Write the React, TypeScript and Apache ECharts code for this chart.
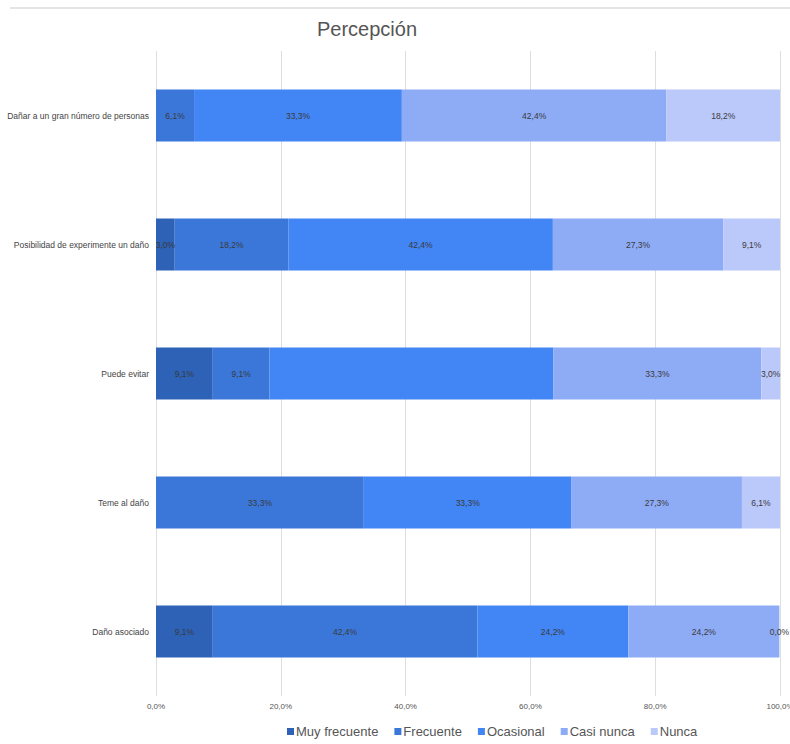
import React, { useEffect, useRef } from "react";
import * as echarts from "echarts";

// Survey items, top to bottom
const categories = [
  "Dañar a un gran número de personas",
  "Posibilidad de experimente un daño",
  "Puede evitar",
  "Teme al daño",
  "Daño asociado",
];

const seriesNames = ["Muy frecuente", "Frecuente", "Ocasional", "Casi nunca", "Nunca"];

// Percent of answers per item (null = no answers in that group)
const muyFrecuente = [null, 3.0, 9.1, null, 9.1];
const frecuente = [6.1, 18.2, 9.1, 33.3, 42.4];
const ocasional = [33.3, 42.4, 45.5, 33.3, 24.2];
const casiNunca = [42.4, 27.3, 33.3, 27.3, 24.2];
const nunca = [18.2, 9.1, 3.0, 6.1, 0.0];

// Segments drawn without a value label: [series index, category index]
const unlabeled = [[2, 2]];

const xTicks = [0, 20, 40, 60, 80, 100];

const colors = ["#2d62b6", "#3a77d9", "#4285f4", "#8eabf6", "#bbc8fa"];

const pct = (v: number) => v.toFixed(1).replace(".", ",") + "%";

export default function App() {
  const ref = useRef<HTMLDivElement>(null);

  useEffect(() => {
    if (!ref.current) return;
    const chart = echarts.init(ref.current, undefined, { renderer: "svg" });
    const values = [muyFrecuente, frecuente, ocasional, casiNunca, nunca];
    const font = "'Liberation Sans', Arial, sans-serif";

    chart.setOption({
      animation: false,
      color: colors,
      textStyle: { fontFamily: font },
      title: {
        text: "Percepción",
        left: 312,
        top: 14,
        textStyle: { fontSize: 20, fontWeight: "normal", color: "#555555", fontFamily: font },
      },
      graphic: [
        {
          type: "line",
          shape: { x1: 10, y1: 8, x2: 790, y2: 8 },
          style: { stroke: "#dcdcdc", lineWidth: 1.5 },
        },
      ],
      legend: {
        left: 287,
        top: 725,
        icon: "rect",
        itemWidth: 7,
        itemHeight: 7,
        itemGap: 16,
        padding: 0,
        textStyle: { fontSize: 13, color: "#555555", fontFamily: font, padding: [0, 0, 0, -3] },
        data: seriesNames,
      },
      grid: {
        left: 156,
        right: 10,
        top: 51,
        bottom: 48,
        containLabel: false,
        outerBoundsMode: "none",
      },
      xAxis: {
        type: "value",
        min: xTicks[0],
        max: xTicks[xTicks.length - 1],
        interval: 20,
        axisLine: { show: false },
        axisTick: { show: false },
        splitLine: { show: true, lineStyle: { color: "#dedede", width: 1 } },
        axisLabel: {
          fontSize: 8,
          color: "#555555",
          margin: 6,
          formatter: (v: number) => pct(v),
        },
      },
      yAxis: {
        type: "category",
        data: categories,
        inverse: true,
        axisLine: { show: false },
        axisTick: { show: false },
        axisLabel: { fontSize: 8.5, color: "#444444", margin: 7 },
      },
      series: seriesNames.map((name, si) => ({
        name,
        type: "bar",
        stack: "total",
        barWidth: 52,
        data: values[si].map((v, ci) => {
          if (v === null) return "-";
          const hide = unlabeled.some(([s, c]) => s === si && c === ci);
          return hide ? { value: v, label: { show: false } } : v;
        }),
        label: {
          show: true,
          position: "inside",
          fontSize: 8.5,
          color: "#3a3a3a",
          formatter: (p: any) => pct(p.value),
        },
      })),
    });

    return () => chart.dispose();
  }, []);

  return (
    <div
      ref={ref}
      style={{ position: "fixed", left: 0, top: 0, width: 790, height: 744, background: "#ffffff" }}
    />
  );
}
